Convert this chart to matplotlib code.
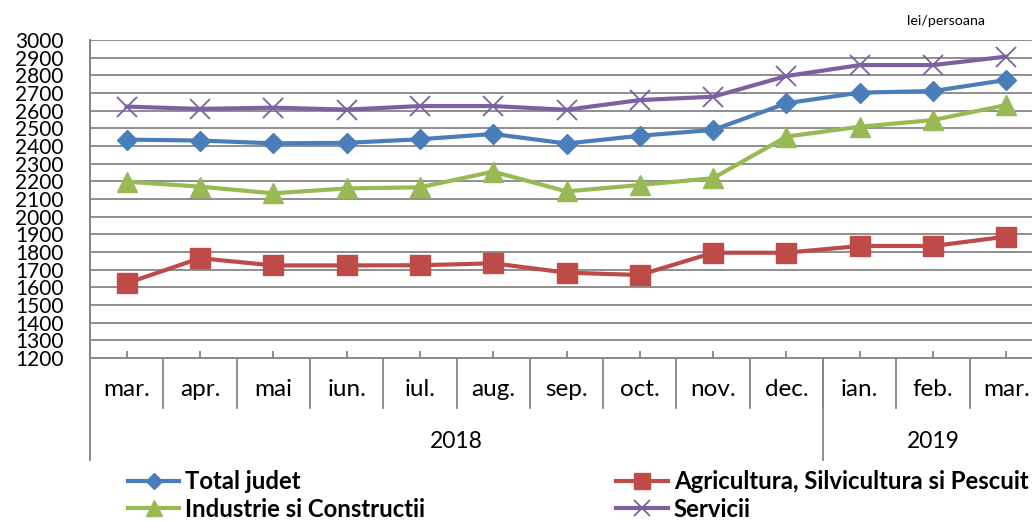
import matplotlib
matplotlib.use("Agg")
from matplotlib import pyplot as plt

luni = ["mar.", "apr.", "mai", "iun.", "iul.", "aug.", "sep.", "oct.", "nov.", "dec.", "ian.", "feb.", "mar."]
ani = ["2018", "2019"]
luni_pe_an = [10, 3]

total_judet = [2436, 2431, 2415, 2418, 2438, 2468, 2414, 2458, 2491, 2642, 2702, 2711, 2774]
agricultura = [1623, 1765, 1724, 1724, 1725, 1736, 1683, 1670, 1796, 1796, 1834, 1834, 1887]
industrie = [2198, 2170, 2132, 2160, 2166, 2255, 2143, 2179, 2218, 2453, 2509, 2547, 2632]
servicii = [2623, 2610, 2617, 2606, 2626, 2626, 2605, 2660, 2679, 2796, 2858, 2858, 2906]

plt.rcParams['font.family'] = ['Lato', 'DejaVu Sans']

gri = '#868686'

fig = plt.figure(figsize=(10.32, 5.21), dpi=100)
ax = fig.add_axes([90/1032, 163/521, 953/1032, 318/521])

x = range(len(luni))
l1, = ax.plot(x, total_judet, color='#4A7EBB', lw=3, marker='D', ms=10.5, zorder=4)
l2, = ax.plot(x, agricultura, color='#BE4B48', lw=3, marker='s', ms=14.5, zorder=4)
l3, = ax.plot(x, industrie, color='#98B954', lw=3, marker='^', ms=15, zorder=4)
l4, = ax.plot(x, servicii, color='#7D60A0', lw=3, marker='x', ms=14, mew=1.3, zorder=4)

ax.set_xlim(-0.5, len(luni) - 0.5)
ax.set_ylim(1200, 3000)
ax.set_yticks(range(1200, 3001, 100))
ax.grid(axis='y', color=gri, lw=1.3)
ax.set_axisbelow(True)
for s in ['top', 'right']:
    ax.spines[s].set_visible(False)
ax.spines['left'].set_color(gri)
ax.spines['bottom'].set_color(gri)
ax.spines['left'].set_linewidth(1.3)
ax.spines['bottom'].set_linewidth(1.3)
ax.tick_params(axis='y', length=0, pad=19, labelsize=15)
ax.set_xticks(list(x))
ax.set_xticklabels([])
ax.tick_params(axis='x', direction='in', length=5, color=gri, width=1.3)

# categorii sub axa
tr = ax.get_xaxis_transform()
for i in range(1, len(luni)):
    ax.plot([i - 0.5, i - 0.5], [0, -0.157], color=gri, lw=1.3, transform=tr, clip_on=False)
for i, l in enumerate(luni):
    ax.text(i, -0.1, l, transform=tr, ha='center', va='center', fontsize=17.5)
start = -0.5
for an, n in zip(ani, luni_pe_an):
    ax.plot([start, start], [0, -0.321], color=gri, lw=1.3, transform=tr, clip_on=False)
    ax.text(start + n / 2, -0.264, an, transform=tr, ha='center', va='center', fontsize=16.5)
    start += n
ax.plot([-0.5, -0.5], [0, 1], color=gri, lw=1.3, transform=tr, clip_on=False)

fig.text(946/1032, 1 - 21/521, "lei/persoana", ha='center', va='center', fontsize=10.3)

fig.legend([l1, l3, l2, l4],
           ["Total judet", "Industrie si Constructii", "Agricultura, Silvicultura si Pescuit", "Servicii"],
           ncol=2, loc='upper left', bbox_to_anchor=(128/1032, 1 - 470/521), frameon=False,
           borderpad=0, borderaxespad=0,
           prop={'weight': 'bold', 'size': 17.2}, handlelength=2.15, handletextpad=0.25,
           columnspacing=8.0, labelspacing=0.2, markerscale=0.8)

plt.savefig("out.png", dpi=100)
